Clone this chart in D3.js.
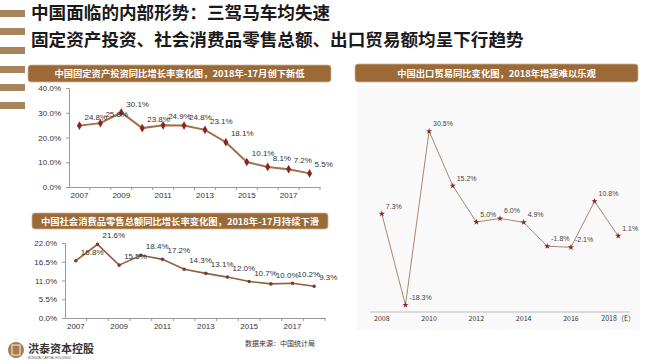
<!DOCTYPE html>
<html>
<head>
<meta charset="utf-8">
<script src="https://cdn.jsdelivr.net/npm/d3@7"></script>
<style>
  body { margin: 0; background: #fff; }
  svg { display: block; font-family: "Liberation Sans", "Noto Sans CJK SC", sans-serif; }
  .cjk { font-family: "Noto Sans CJK SC", sans-serif; }
</style>
</head>
<body>
<script>
// fixed asset investment, yoy %
const fixedYears = [2007, 2008, 2009, 2010, 2011, 2012, 2013, 2014, 2015, 2016, 2017, 2018];
const fixedValues = [24.8, 25.8, 30.1, 23.8, 24.9, 24.8, 23.1, 18.1, 10.1, 8.1, 7.2, 5.5];
const fixedTicks = [0, 10, 20, 30, 40];

// retail sales of consumer goods, yoy %
const retailYears = [2007, 2008, 2009, 2010, 2011, 2012, 2013, 2014, 2015, 2016, 2017, 2018];
const retailValues = [16.8, 21.6, 15.5, 18.4, 17.2, 14.3, 13.1, 12.0, 10.7, 10.0, 10.2, 9.3];
const retailTicks = [0, 5.5, 11, 16.5, 22];

// exports, yoy %
const exportYears = ["2008", "2009", "2010", "2011", "2012", "2013", "2014", "2015", "2016", "2017", "2018"];
const exportValues = [7.3, -18.3, 30.5, 15.2, 5.0, 6.0, 4.9, -1.8, -2.1, 10.8, 1.1];
const exportLabels = ["2008", "2010", "2012", "2014", "2016", "2018（E）"];

const titles = ["中国面临的内部形势：三驾马车均失速", "固定资产投资、社会消费品零售总额、出口贸易额均呈下行趋势"];

const w = 650, h = 364;
const brown = "#9c6a36";

const svg = d3.select("body").append("svg").attr("width", w).attr("height", h);

// left decorative stripes
svg.append("g").selectAll("rect")
  .data([10, 28, 47, 66, 84, 102])
  .enter().append("rect")
  .attr("x", 0).attr("y", (d) => d)
  .attr("width", 25).attr("height", 7)
  .attr("fill", "#a8845c");

// titles
svg.append("g").selectAll("text")
  .data(titles)
  .enter().append("text")
  .attr("class", "cjk")
  .attr("x", 31)
  .attr("y", (d, i) => 19 + i * 27)
  .attr("font-size", "17.6px")
  .attr("font-weight", "bold")
  .attr("fill", "#1a1a1a")
  .text((d) => d);

// panel headers
const headers = [
  { x: 28, y: 65, w: 303, h: 17, t: "中国固定资产投资同比增长率变化图，2018年-17月创下新低" },
  { x: 32, y: 213, w: 296, h: 16, t: "中国社会消费品零售总额同比增长率变化图，2018年-17月持续下滑" },
  { x: 355, y: 64, w: 283, h: 18, t: "中国出口贸易同比变化图，2018年增速难以乐观" }
];

// faint backdrop for the export chart
svg.append("rect")
  .attr("x", 357).attr("y", 86).attr("width", 283).attr("height", 244)
  .attr("fill", "#f9f9f9");

const hg = svg.append("g");
hg.selectAll("rect")
  .data(headers)
  .enter().append("rect")
  .attr("x", (d) => d.x).attr("y", (d) => d.y)
  .attr("width", (d) => d.w).attr("height", (d) => d.h)
  .attr("rx", 3)
  .attr("fill", brown)
  .attr("stroke", "#c9b39a").attr("stroke-width", 0.8);
hg.selectAll("text")
  .data(headers)
  .enter().append("text")
  .attr("class", "cjk")
  .attr("x", (d) => d.x + d.w / 2)
  .attr("y", (d) => d.y + d.h / 2 + 3.5)
  .attr("text-anchor", "middle")
  .attr("font-size", "9.3px")
  .attr("font-weight", "bold")
  .attr("fill", "#fff")
  .text((d) => d.t);

const pct = (d) => d.toFixed(1) + "%";

// left-hand line chart with y axis
const leftChart = function(years, values, ticks, box, opt) {
  const g = svg.append("g");
  const x = d3.scaleBand().domain(years).range([box.x0, box.x1]);
  const y = d3.scaleLinear().domain([ticks[0], ticks[ticks.length - 1]]).range([box.y0, box.y1]);

  const ya = g.append("g")
    .attr("transform", "translate(" + box.x0 + ",0)")
    .call(d3.axisLeft(y).tickValues(ticks).tickFormat(pct).tickSize(3).tickPadding(5));
  ya.select(".domain").attr("stroke", "#999");
  ya.selectAll(".tick line").attr("stroke", "#999");
  ya.selectAll("text").attr("font-size", "8px").attr("fill", "#333");

  const xa = g.append("g")
    .attr("transform", "translate(0," + box.y0 + ")")
    .call(d3.axisBottom(x).tickSize(0).tickPadding(5)
      .tickFormat((d) => (d % 2 === 1 ? d : "")));
  xa.select(".domain").attr("stroke", "#999");
  xa.selectAll("text").attr("font-size", "8px").attr("fill", "#333");

  // small ticks on band boundaries
  g.append("g").selectAll("line")
    .data(years.slice(1).map((d) => x(d)).concat([box.x1]))
    .enter().append("line")
    .attr("x1", (d) => d).attr("x2", (d) => d)
    .attr("y1", box.y0).attr("y2", box.y0 + 3)
    .attr("stroke", "#999");

  const pts = years.map((d, i) => [x(d) + x.bandwidth() / 2, y(values[i])]);
  g.append("path")
    .attr("d", d3.line()(pts))
    .attr("fill", "none")
    .attr("stroke", opt.line)
    .attr("stroke-width", opt.lw);

  g.append("g").selectAll("path")
    .data(pts)
    .enter().append("path")
    .attr("transform", (d) => "translate(" + d[0] + "," + d[1] + ")")
    .attr("d", d3.symbol().type(opt.symbol).size(opt.size))
    .attr("fill", opt.mark);

  g.append("g").selectAll("text")
    .data(pts)
    .enter().append("text")
    .attr("x", (d) => d[0] + 5)
    .attr("y", (d) => d[1] - 6)
    .attr("font-size", "8px")
    .attr("fill", "#333")
    .text((d, i) => pct(values[i]));
};

leftChart(fixedYears, fixedValues, fixedTicks,
  { x0: 69, x1: 320, y0: 187, y1: 88 },
  { line: "#a0704c", lw: 2, mark: "#8b2525", symbol: d3.symbolDiamond, size: 22 });

leftChart(retailYears, retailValues, retailTicks,
  { x0: 65, x1: 325, y0: 318, y1: 243 },
  { line: "#8f5f3f", lw: 1.6, mark: "#7a3b2a", symbol: d3.symbolCircle, size: 10 });

// export chart, no y axis
const xe = d3.scaleBand().domain(exportYears).range([370, 630]);
const ye = d3.scaleLinear().domain([-20, 30]).range([311, 133]);
const eg = svg.append("g");

eg.append("line")
  .attr("x1", 370).attr("x2", 630).attr("y1", 312).attr("y2", 312)
  .attr("stroke", "#bbb");

eg.append("g").selectAll("text")
  .data(exportLabels)
  .enter().append("text")
  .attr("class", "cjk")
  .attr("x", (d, i) => xe(exportYears[i * 2]) + xe.bandwidth() / 2)
  .attr("y", 321)
  .attr("text-anchor", "middle")
  .attr("font-size", "7px")
  .attr("fill", "#333")
  .text((d) => d);

const epts = exportYears.map((d, i) => [xe(d) + xe.bandwidth() / 2, ye(exportValues[i])]);
eg.append("path")
  .attr("d", d3.line()(epts))
  .attr("fill", "none")
  .attr("stroke", "#9a7a64")
  .attr("stroke-width", 0.9);

eg.append("g").selectAll("path")
  .data(epts)
  .enter().append("path")
  .attr("transform", (d) => "translate(" + d[0] + "," + d[1] + ")")
  .attr("d", d3.symbol().type(d3.symbolStar).size(12))
  .attr("fill", "#8b2525");

eg.append("g").selectAll("text")
  .data(epts)
  .enter().append("text")
  .attr("x", (d) => d[0] + 4)
  .attr("y", (d) => d[1] - 5)
  .attr("font-size", "7px")
  .attr("fill", "#444")
  .text((d, i) => pct(exportValues[i]));

// source note
svg.append("text")
  .attr("class", "cjk")
  .attr("x", 245).attr("y", 346)
  .attr("font-size", "7px")
  .attr("fill", "#333")
  .text("数据来源：中国统计局");

// logo
const logo = svg.append("g");
logo.append("circle").attr("cx", 16).attr("cy", 350).attr("r", 8).attr("fill", "#a57c50");
logo.append("rect").attr("x", 12).attr("y", 345).attr("width", 8).attr("height", 10)
  .attr("fill", "none").attr("stroke", "#f0e2cc").attr("stroke-width", 1.2);
logo.append("text")
  .attr("class", "cjk")
  .attr("x", 28).attr("y", 353)
  .attr("font-size", "11px")
  .attr("font-weight", "bold")
  .attr("fill", "#333")
  .text("洪泰资本控股");
logo.append("text")
  .attr("x", 28).attr("y", 358.5)
  .attr("font-size", "3px")
  .attr("fill", "#555")
  .text("HONGTAI CAPITAL HOLDINGS");
</script>
</body>
</html>
